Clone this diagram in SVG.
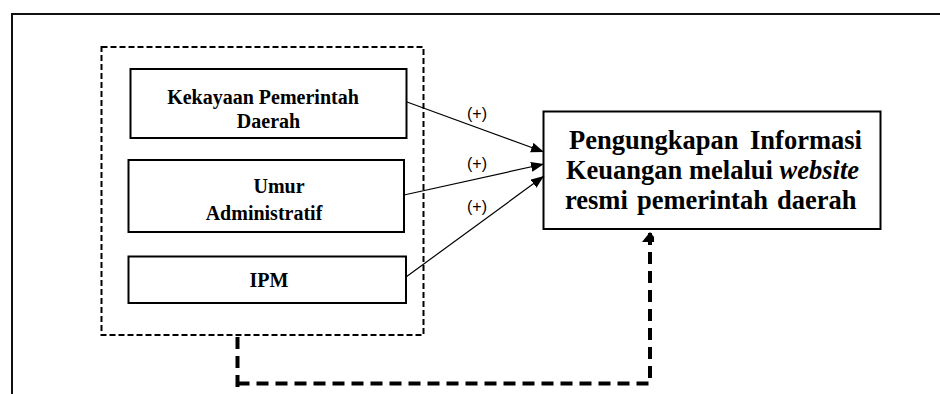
<svg xmlns="http://www.w3.org/2000/svg" width="940" height="394" viewBox="0 0 940 394">
<style>
.box{fill:#fff;stroke:#000;stroke-width:2}
.grp{fill:none;stroke:#000;stroke-width:2;stroke-dasharray:6 3}
.lt{font-family:"Liberation Serif","Times New Roman",serif;font-weight:bold;font-size:20px;fill:#000;text-anchor:middle}
.tt{font-family:"Liberation Serif","Times New Roman",serif;font-weight:bold;font-size:26.5px;fill:#000}
.lab{font-family:"Liberation Sans",Arial,sans-serif;font-size:16px;fill:#000;text-anchor:middle}
.ar{fill:none;stroke:#000;stroke-width:1.2}
.dash{fill:none;stroke:#000;stroke-width:4;stroke-dasharray:12 7}
</style>
<defs>
<marker id="ah" markerUnits="userSpaceOnUse" markerWidth="14" markerHeight="12" refX="13" refY="5" orient="auto">
<path d="M0,0 L13,5 L0,10 z" fill="#000"/>
</marker>
<marker id="ahb" markerUnits="userSpaceOnUse" markerWidth="18" markerHeight="12" refX="10" refY="8" orient="auto">
<path d="M0,0 L10,8 L0,16 z" fill="#000"/>
</marker>
</defs>
<rect width="940" height="394" fill="#fff"/>
<rect x="12" y="14" width="1000" height="500" fill="none" stroke="#111" stroke-width="2"/>
<rect id="group" class="grp" x="101.5" y="47" width="322" height="288"/>
<g id="kekayaan">
<rect class="box" x="130.5" y="69" width="276" height="69"/>
<text class="lt" x="263" y="103.5">Kekayaan Pemerintah</text>
<text class="lt" x="268.5" y="127.5">Daerah</text>
</g>
<g id="umur">
<rect class="box" x="128.5" y="160" width="275.5" height="72"/>
<text class="lt" x="279" y="192.5">Umur</text>
<text class="lt" x="264" y="220">Administratif</text>
</g>
<g id="ipm">
<rect class="box" x="128.5" y="256.5" width="277.5" height="46.5"/>
<text class="lt" x="269" y="286.5">IPM</text>
</g>
<g id="pengungkapan">
<rect class="box" x="543.5" y="111.5" width="337" height="117.5"/>
<text class="tt" x="569" y="148.5" word-spacing="5">Pengungkapan Informasi</text>
<text class="tt" x="566" y="178.5">Keuangan melalui <tspan font-style="italic">website</tspan></text>
<text class="tt" x="565" y="208.5" word-spacing="2.5">resmi pemerintah daerah</text>
</g>
<g id="connectors">
<line class="ar" x1="407" y1="102" x2="544" y2="152" marker-end="url(#ah)"/>
<line class="ar" x1="404" y1="195" x2="544" y2="164" marker-end="url(#ah)"/>
<line class="ar" x1="406" y1="277" x2="544" y2="176" marker-end="url(#ah)"/>
<text class="lab" x="477" y="118.5">(+)</text>
<text class="lab" x="477" y="168.5">(+)</text>
<text class="lab" x="477" y="211.5">(+)</text>
<path class="dash" d="M237.5 337 V394"/>
<path class="dash" d="M237.5 383.5 H650 V232" marker-end="url(#ahb)"/>
</g>
</svg>
